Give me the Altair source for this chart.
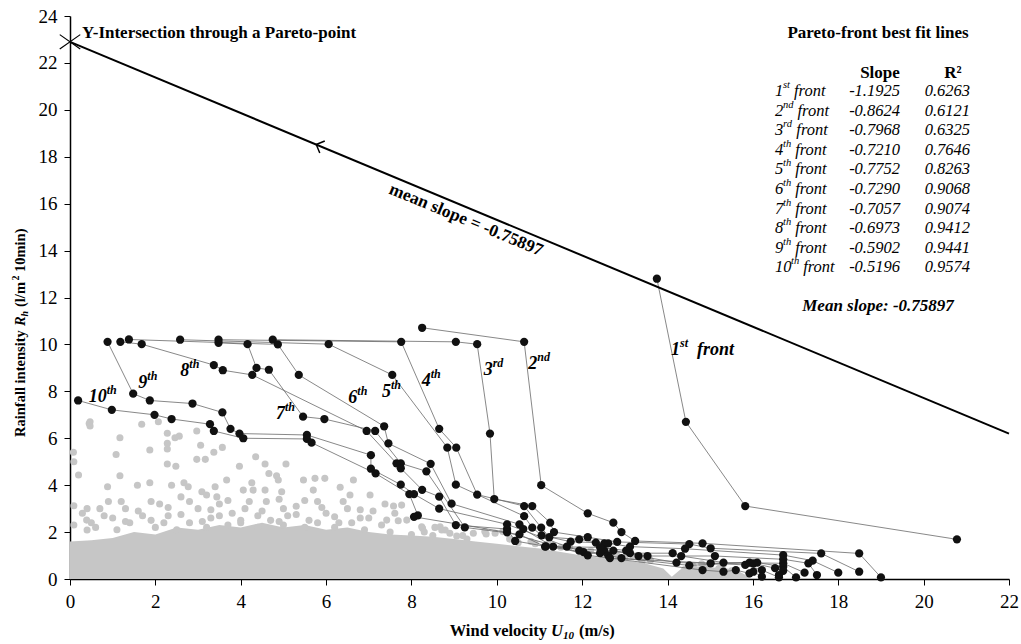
import altair as alt
import pandas as pd

FONT = "Liberation Serif"
# plot area on the page (pixels)
X0, Y0, W, H = 70, 16, 939, 563
XMAX, YMAX = 22, 24

X_TICKS = [0, 2, 4, 6, 8, 10, 12, 14, 16, 18, 20, 22]
Y_TICKS = [0, 2, 4, 6, 8, 10, 12, 14, 16, 18, 20, 22, 24]

# ---------------- Pareto fronts (wind, rain) ----------------
FRONT_1 = [(13.75, 12.8), (14.43, 6.7), (15.82, 3.11), (20.78, 1.69)]
FRONT_2 = [(8.25, 10.71), (10.64, 10.11), (11.04, 4.0), (12.13, 2.8), (12.73, 2.4),
           (12.92, 2.0), (13.24, 1.62), (14.82, 1.52), (18.49, 1.09), (19.0, 0.07)]
FRONT_3 = [(4.75, 10.2), (9.04, 10.11), (9.54, 10.01), (9.84, 6.2), (9.94, 3.41),
           (10.83, 3.11), (11.25, 2.4), (11.34, 2.0), (12.13, 1.78), (12.82, 1.58),
           (14.51, 1.49), (15.01, 1.31), (17.6, 1.09), (18.49, 0.31)]
FRONT_4 = [(3.48, 10.2), (7.76, 10.11), (8.65, 6.4), (9.05, 5.6), (9.54, 3.6),
           (10.64, 3.11), (11.04, 2.19), (11.23, 1.78), (11.93, 1.69), (12.52, 1.52),
           (12.61, 1.52), (13.12, 1.38), (14.41, 1.29), (16.71, 1.02), (17.4, 0.78), (18.0, 0.27)]
FRONT_5 = [(2.58, 10.2), (6.06, 10.01), (7.55, 8.7), (8.84, 5.6), (9.04, 4.02),
           (10.64, 2.68), (10.83, 2.19), (11.05, 1.86), (11.73, 1.59), (12.32, 1.55),
           (12.73, 1.21), (13.53, 0.98), (15.11, 0.98), (16.71, 0.84), (17.3, 0.67), (17.5, 0.17)]
FRONT_6 = [(1.38, 10.21), (4.87, 10.0), (5.36, 8.7), (7.36, 6.51), (7.46, 5.78),
           (8.45, 4.91), (8.94, 3.21), (10.53, 2.33), (10.62, 2.13), (11.32, 1.38),
           (12.52, 1.21), (13.12, 1.1), (14.12, 1.1), (14.32, 0.98), (15.31, 0.7),
           (16.71, 0.67), (17.21, 0.27)]
FRONT_7 = [(3.48, 10.07), (4.16, 10.01), (4.37, 9.0), (4.66, 8.92), (5.46, 6.92),
           (5.96, 6.82), (7.15, 6.31), (7.75, 4.93), (8.35, 4.59), (9.25, 2.2),
           (10.53, 1.9), (11.13, 1.38), (12.42, 1.35), (13.03, 1.21), (13.32, 0.98),
           (14.21, 0.7), (15.01, 0.67), (16.1, 0.7), (16.71, 0.52), (17.01, 0.07)]
FRONT_8 = [(1.18, 10.11), (1.68, 10.01), (3.37, 9.12), (3.58, 8.9), (4.27, 8.7),
           (6.95, 6.31), (7.65, 4.93), (7.75, 4.72), (8.25, 3.8), (8.65, 3.51),
           (9.04, 2.3), (10.24, 2.13), (10.43, 1.62), (11.15, 1.39), (12.03, 1.15),
           (12.61, 1.01), (12.92, 0.89), (14.51, 0.58), (15.92, 0.7), (16.01, 0.67),
           (16.52, 0.46), (16.71, 0.35), (16.61, 0.17)]
FRONT_9 = [(0.88, 10.11), (1.48, 7.9), (1.87, 7.61), (2.87, 7.48), (3.57, 7.1),
           (3.76, 6.4), (3.97, 6.2), (5.55, 6.14), (7.05, 5.28), (7.05, 4.7),
           (7.75, 4.02), (8.06, 3.62), (8.65, 3.0), (10.24, 2.33), (11.64, 1.38),
           (11.93, 1.21), (12.42, 1.1), (12.65, 0.89), (15.82, 0.6), (16.21, 0.38), (16.61, 0.07)]
FRONT_10 = [(0.19, 7.61), (0.98, 7.21), (1.98, 7.0), (2.38, 6.82), (3.28, 6.6),
            (3.37, 6.31), (4.06, 6.0), (5.55, 5.97), (5.66, 5.81), (7.16, 4.5),
            (7.95, 3.62), (8.15, 2.71), (8.06, 2.65), (10.24, 1.99), (12.13, 1.01),
            (14.82, 0.38), (15.31, 0.31), (15.6, 0.38), (15.92, 0.24), (16.01, 0.31), (16.21, 0.1)]
FRONTS = [FRONT_1, FRONT_2, FRONT_3, FRONT_4, FRONT_5,
          FRONT_6, FRONT_7, FRONT_8, FRONT_9, FRONT_10]

# ---------------- grey cloud of all observations ----------------
# upper edge of the solid part of the cloud
CORE_X = [0, 0.5, 1, 1.5, 2, 2.5, 3, 3.5, 4, 4.5, 5, 5.5, 6, 6.5, 7, 7.5, 8, 8.5, 9,
          9.5, 10, 10.5, 11, 11.5, 12, 12.5, 13, 13.5, 13.9, 14.1, 14.3, 14.6, 15.0,
          15.4, 15.7, 16.0]
CORE_Y = [1.6, 1.65, 1.75, 2.0, 1.9, 2.2, 2.1, 2.3, 2.2, 2.4, 2.2, 2.3, 2.1, 2.2, 2.0,
          1.9, 1.85, 1.8, 1.7, 1.6, 1.5, 1.4, 1.3, 1.15, 1.0, 0.9, 0.8, 0.65, 0.45,
          0.1, 0.4, 0.55, 0.5, 0.45, 0.3, 0.0]
# individual observations standing out of the cloud
GREY_PTS = [
    (0.45, 6.63), (0.47, 6.7), (0.47, 6.52), (1.68, 6.6), (2.07, 6.7), (0.08, 5.4), (1.17, 6.02),
    (2.28, 6.21), (2.56, 6.09), (2.46, 6.02), (2.97, 6.31), (1.08, 5.31), (1.87, 5.5), (2.28, 5.78),
    (2.28, 5.54), (3.06, 5.7), (3.57, 5.61), (3.37, 5.4), (2.97, 5.1), (3.17, 5.1), (4.35, 5.21),
    (0.09, 5.0), (0.2, 4.43), (1.17, 4.4), (2.28, 4.9), (2.48, 4.81), (3.97, 4.81), (4.57, 4.9),
    (5.06, 4.9), (4.66, 4.5), (4.84, 4.4), (4.88, 4.22), (5.47, 4.22), (5.74, 4.29), (5.97, 4.29),
    (3.67, 4.22), (4.26, 4.1), (0.88, 3.93), (1.58, 4.0), (1.87, 4.1), (2.38, 4.0), (2.67, 4.1),
    (2.77, 3.93), (3.09, 3.72), (3.2, 3.58), (3.4, 3.93), (3.44, 3.5), (4.06, 3.79), (4.29, 3.79),
    (6.64, 4.22), (4.57, 3.79), (4.96, 3.72), (5.7, 3.79), (6.33, 3.91), (6.56, 3.58), (7.03, 3.58),
    (0.09, 3.12), (0.09, 2.3), (0.29, 2.8), (0.39, 2.51), (0.4, 2.09), (7.38, 3.2), (7.58, 3.11),
    (7.77, 3.15), (7.61, 2.8), (7.42, 2.51), (7.69, 2.48), (7.89, 2.51), (8.26, 2.16), (8.55, 2.2),
    (8.79, 2.09), (9.45, 1.95), (9.75, 1.92), (9.96, 1.95), (9.06, 1.83), (8.24, 2.23), (8.67, 2.23),
    (8.71, 2.09), (9.72, 2.02), (10.14, 2.02),
    (0.7, 3.0), (1.0, 2.6), (1.2, 3.3), (1.4, 2.4), (1.6, 2.9), (1.9, 2.5), (2.1, 3.2), (2.3, 2.7),
    (2.6, 3.5), (2.8, 2.4), (3.0, 3.0), (3.3, 2.6), (3.5, 3.2), (3.8, 2.8), (4.0, 2.4), (4.2, 3.3),
    (4.5, 2.9), (4.7, 2.5), (4.9, 3.4), (5.1, 2.7), (5.3, 3.1), (5.6, 2.5), (5.8, 3.3), (6.0, 2.8),
    (6.3, 2.4), (6.5, 3.0), (6.8, 2.6), (7.1, 2.9), (0.6, 2.2), (1.1, 2.1), (2.0, 2.2), (2.5, 2.1),
    (3.2, 2.2), (3.7, 2.3), (4.4, 2.2), (5.0, 2.3), (5.5, 2.2), (6.2, 2.2), (6.9, 2.1), (7.5, 2.0),
    (8.0, 1.9), (8.5, 1.85), (9.3, 1.7), (10.5, 1.55), (10.9, 1.5), (11.5, 1.35), (12.0, 1.2),
    (12.5, 1.0), (13.0, 0.9), (13.4, 0.75), (14.6, 0.55), (14.9, 0.5), (15.2, 0.45), (15.5, 0.35),
    (14.4, 0.4),
    (0.5, 2.4), (1.3, 2.45), (2.2, 2.4), (3.1, 2.45), (4.0, 2.5), (4.9, 2.45), (5.8, 2.4),
    (6.6, 2.4), (7.3, 2.3), (0.8, 2.7), (1.7, 2.7), (2.6, 2.75), (3.5, 2.7), (4.4, 2.7),
    (5.3, 2.75), (6.2, 2.65), (7.0, 2.6), (0.4, 3.0), (1.3, 3.0), (2.3, 3.05), (3.3, 2.95),
    (4.1, 3.0), (5.0, 3.0), (5.9, 3.05), (6.8, 2.95), (0.9, 3.3), (1.9, 3.3), (2.8, 3.3),
    (3.7, 3.35), (4.6, 3.3), (5.5, 3.35), (6.4, 3.3), (8.3, 2.0), (8.9, 1.95), (9.2, 1.85),
    (10.3, 1.7), (10.8, 1.6), (11.2, 1.5), (11.7, 1.35), (12.2, 1.2), (12.8, 1.05),
    (13.2, 0.95), (13.6, 0.8), (14.8, 0.65), (15.3, 0.6)]

# ---------------- mean-slope line ----------------
MEAN_X = [0, 22]
MEAN_Y = [22.9, 6.2]
ARROW_AT = (5.84, 18.47)

# ---------------- table ----------------
ORD_NUM = ["1", "2", "3", "4", "5", "6", "7", "8", "9", "10"]
ORD_SUP = ["st", "nd", "rd", "th", "th", "th", "th", "th", "th", "th"]
SLOPES = ["-1.1925", "-0.8624", "-0.7968", "-0.7210", "-0.7752",
          "-0.7290", "-0.7057", "-0.6973", "-0.5902", "-0.5196"]
R2 = ["0.6263", "0.6121", "0.6325", "0.7646", "0.8263",
      "0.9068", "0.9074", "0.9412", "0.9441", "0.9574"]

# ---------------- helpers ----------------
XS = alt.Scale(domain=[0, XMAX], nice=False, zero=False)
YS = alt.Scale(domain=[0, YMAX], nice=False, zero=False)
XAX = alt.Axis(values=X_TICKS, title=None, grid=False, format="d")
YAX = alt.Axis(values=Y_TICKS, title=None, grid=False, format="d")


def xy():
    return dict(x=alt.X("x:Q", scale=XS, axis=XAX), y=alt.Y("y:Q", scale=YS, axis=YAX))


def px2x(px):
    return (px - X0) / W * XMAX


def py2y(py):
    return (Y0 + H - py) / H * YMAX


def text_layer(rows, **mk):
    df = pd.DataFrame(rows, columns=["px", "py", "t"])
    df["x"] = df["px"].map(px2x)
    df["y"] = df["py"].map(py2y)
    mk.setdefault("font", FONT)
    mk.setdefault("color", "black")
    mk.setdefault("baseline", "middle")
    return alt.Chart(df).mark_text(**mk).encode(text="t:N", **xy())


# ---------------- data frames ----------------
rows = []
for i, pts in enumerate(FRONTS, start=1):
    for j, (x, y) in enumerate(pts):
        rows.append({"front": i, "order": j, "x": x, "y": y})
fronts_df = pd.DataFrame(rows)
core_df = pd.DataFrame({"x": CORE_X, "y": CORE_Y})
grey_df = pd.DataFrame(GREY_PTS, columns=["x", "y"])
mean_df = pd.DataFrame({"x": MEAN_X, "y": MEAN_Y})
arrow_df = pd.DataFrame({"x": [ARROW_AT[0]], "y": [ARROW_AT[1]]})
star_df = pd.DataFrame({"x": [MEAN_X[0]], "y": [MEAN_Y[0]]})

GREY = "#c6c6c6"

base = alt.Chart(core_df).mark_area(color=GREY, opacity=1).encode(**xy())
grey = alt.Chart(grey_df).mark_circle(color=GREY, size=50, opacity=1).encode(**xy())
lines = alt.Chart(fronts_df).mark_line(color="#6a6a6a", strokeWidth=0.8).encode(
    detail="front:N", order="order:Q", **xy())
dots = alt.Chart(fronts_df).mark_circle(color="#111111", size=68, opacity=1).encode(**xy())
mean_line = alt.Chart(mean_df).mark_line(color="black", strokeWidth=2).encode(**xy())
arrow = alt.Chart(arrow_df).mark_point(
    shape="M0.5,-1L-0.5,0L0.5,1", filled=False, color="black", strokeWidth=1.5,
    size=170, angle=22.5, opacity=1).encode(**xy())
star = alt.Chart(star_df).mark_point(
    shape="M-1,-0.7L1,0.7M-1,0.7L1,-0.7", filled=False, color="black", strokeWidth=1.2,
    size=420, opacity=1).encode(**xy())

layers = [base, grey, lines, dots, mean_line, arrow, star]

# ----- annotations in the plot -----
layers.append(text_layer([(82, 33, "Y-Intersection through a Pareto-point")],
                         fontSize=17, fontWeight="bold", align="left"))
layers.append(text_layer([(466, 220, "mean slope = -0.75897")],
                         fontSize=17.5, fontWeight="bold", align="center", angle=22.5))

# front labels: number (right aligned) + superscript (left aligned)
FL_NUM = ["10", "9", "8", "7", "6", "5", "4", "3", "2", "1"]
FL_SUP = ["th", "th", "th", "th", "th", "th", "th", "rd", "nd", "st"]
FL_PX = [106.7, 147.3, 189.3, 285, 357.3, 391, 430.7, 492.7, 537.3, 680]
FL_PY = [396.7, 383.3, 370.7, 414.3, 398.3, 391.7, 381, 370, 364, 350]
layers.append(text_layer(list(zip(FL_PX, FL_PY, FL_NUM)), fontSize=18, fontWeight="bold",
                         fontStyle="italic", align="right"))
layers.append(text_layer(list(zip(FL_PX, FL_PY, FL_SUP)), fontSize=12, fontWeight="bold",
                         fontStyle="italic", align="left", dy=-7))
layers.append(text_layer([(697, 350, "front")], fontSize=18, fontWeight="bold",
                         fontStyle="italic", align="left"))

# table
layers.append(text_layer([(878, 33, "Pareto-front best fit lines"),
                          (880, 73, "Slope"), (953, 73, "R²")],
                         fontSize=17, fontWeight="bold", align="center"))
SUP_W = {"st": 7, "nd": 10.5, "rd": 9.3, "th": 8.2}
num_rows, sup_rows, front_rows, slope_rows, r2_rows = [], [], [], [], []
for i in range(10):
    py = 91 + 19.6 * i
    nw = 8 * len(ORD_NUM[i])
    num_rows.append((775, py, ORD_NUM[i]))
    sup_rows.append((775 + nw, py, ORD_SUP[i]))
    front_rows.append((775 + nw + SUP_W[ORD_SUP[i]] + 4, py, "front"))
    slope_rows.append((900, py, SLOPES[i]))
    r2_rows.append((970, py, R2[i]))
layers.append(text_layer(num_rows + front_rows, fontSize=16.5, fontStyle="italic", align="left"))
layers.append(text_layer(sup_rows, fontSize=10.5, fontStyle="italic", align="left", dy=-6))
layers.append(text_layer(slope_rows + r2_rows, fontSize=16.5, fontStyle="italic", align="right"))
layers.append(text_layer([(878, 306, "Mean slope:  -0.75897")], fontSize=17,
                         fontWeight="bold", fontStyle="italic", align="center"))

# ----- axis titles (composed) -----
layers.append(text_layer([(547, 631, "Wind velocity")], fontSize=16.5, fontWeight="bold", align="right"))
layers.append(text_layer([(551, 631, "U")], fontSize=16.5, fontWeight="bold", fontStyle="italic", align="left"))
layers.append(text_layer([(563, 631, "10")], fontSize=11, fontWeight="bold", fontStyle="italic", align="left", dy=5))
layers.append(text_layer([(579, 631, "(m/s)")], fontSize=16.5, fontWeight="bold", align="left"))

YT_X = 21
layers.append(text_layer([(YT_X, 437, "Rainfall intensity")], fontSize=14.5, fontWeight="bold", align="left", angle=270))
layers.append(text_layer([(YT_X, 326, "R")], fontSize=14.5, fontWeight="bold", fontStyle="italic", align="left", angle=270))
layers.append(text_layer([(YT_X, 316.5, "h")], fontSize=10, fontWeight="bold", fontStyle="italic", align="left", angle=270, dy=4))
layers.append(text_layer([(YT_X, 307, "(l/m")], fontSize=14.5, fontWeight="bold", align="left", angle=270))
layers.append(text_layer([(YT_X, 280.5, "2")], fontSize=10, fontWeight="bold", align="left", angle=270, dy=-5))
layers.append(text_layer([(YT_X, 272, "10min)")], fontSize=14.5, fontWeight="bold", align="left", angle=270))

chart = alt.layer(*layers).properties(
    width=W, height=H, autosize="none",
    padding={"left": X0, "top": Y0, "right": 1021 - X0 - W, "bottom": 644 - Y0 - H},
    background="white",
).configure_view(stroke=None).configure_axis(
    domainColor="black", domainWidth=1.5, tickColor="black", tickWidth=1, tickSize=6,
    labelFont=FONT, labelFontSize=19, labelColor="black", labelPadding=7, labelFlush=False,
)

chart.save("out.html", embed_options={"renderer": "svg", "actions": False})
